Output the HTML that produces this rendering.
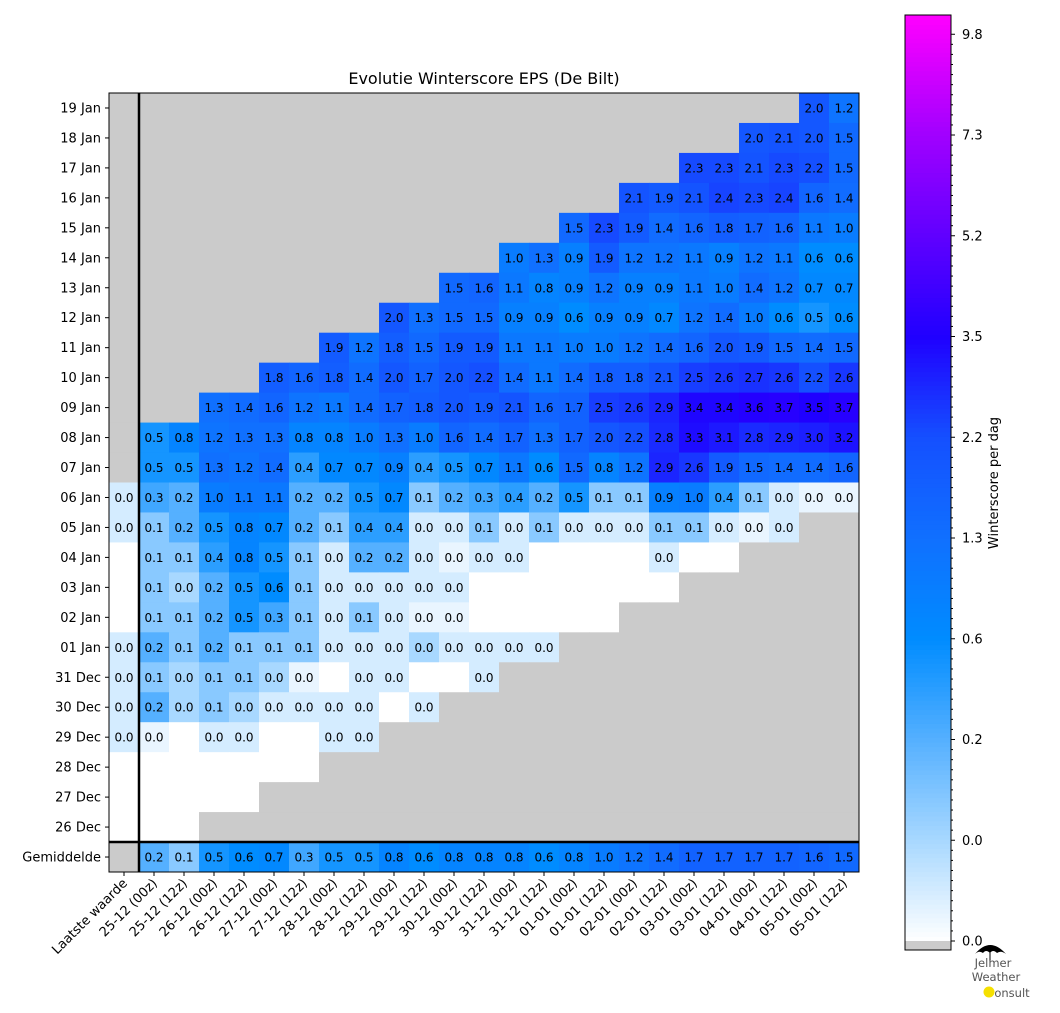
<!DOCTYPE html>
<html><head><meta charset="utf-8"><style>
html,body{margin:0;padding:0;background:#fff;}
svg{display:block;font-family:"DejaVu Sans","Liberation Sans",sans-serif;}
</style></head><body>
<svg id="chart" width="1060" height="1013" viewBox="0 0 1060 1013">
<text x="484" y="84" font-size="16" text-anchor="middle">Evolutie Winterscore EPS (De Bilt)</text>
<g id="cells"></g>
<g id="axes"></g>
<g id="cbar"></g>
<g>
<path d="M975,954 Q990,936 1006,954 Q1001,950 997,953 Q993,949 990,953 Q986,949 983,953 Q979,950 975,954 Z" fill="#000"/>
<path d="M990,952 L990,966" stroke="#000" stroke-width="1"/>
<text x="993" y="967" font-size="11.5" fill="#555" text-anchor="middle">Jelmer</text>
<text x="996" y="981" font-size="11.5" fill="#555" text-anchor="middle">Weather</text>
<circle cx="989" cy="992" r="5.5" fill="#f5e000"/>
<text x="1012" y="997" font-size="11.5" fill="#555" text-anchor="middle">onsult</text>
</g>
</svg>
<script>
const _ = null;   // missing (grey)
const Z = 0.02;   // small value printed as 0.0
const rowLabels = ["19 Jan","18 Jan","17 Jan","16 Jan","15 Jan","14 Jan","13 Jan","12 Jan","11 Jan","10 Jan","09 Jan","08 Jan","07 Jan","06 Jan","05 Jan","04 Jan","03 Jan","02 Jan","01 Jan","31 Dec","30 Dec","29 Dec","28 Dec","27 Dec","26 Dec","Gemiddelde"];
const colLabels = ["Laatste waarde","25-12 (00z)","25-12 (12z)","26-12 (00z)","26-12 (12z)","27-12 (00z)","27-12 (12z)","28-12 (00z)","28-12 (12z)","29-12 (00z)","29-12 (12z)","30-12 (00z)","30-12 (12z)","31-12 (00z)","31-12 (12z)","01-01 (00z)","01-01 (12z)","02-01 (00z)","02-01 (12z)","03-01 (00z)","03-01 (12z)","04-01 (00z)","04-01 (12z)","05-01 (00z)","05-01 (12z)"];
const r19 = [_,_,_,_,_,_,_,_,_,_,_,_,_,_,_,_,_,_,_,_,_,_,_,2.0,1.2];
const r18 = [_,_,_,_,_,_,_,_,_,_,_,_,_,_,_,_,_,_,_,_,_,2.0,2.1,2.0,1.5];
const r17 = [_,_,_,_,_,_,_,_,_,_,_,_,_,_,_,_,_,_,_,2.3,2.3,2.1,2.3,2.2,1.5];
const r16 = [_,_,_,_,_,_,_,_,_,_,_,_,_,_,_,_,_,2.1,1.9,2.1,2.4,2.3,2.4,1.6,1.4];
const r15 = [_,_,_,_,_,_,_,_,_,_,_,_,_,_,_,1.5,2.3,1.9,1.4,1.6,1.8,1.7,1.6,1.1,1.0];
const r14 = [_,_,_,_,_,_,_,_,_,_,_,_,_,1.0,1.3,0.9,1.9,1.2,1.2,1.1,0.9,1.2,1.1,0.6,0.6];
const r13 = [_,_,_,_,_,_,_,_,_,_,_,1.5,1.6,1.1,0.8,0.9,1.2,0.9,0.9,1.1,1.0,1.4,1.2,0.7,0.7];
const r12 = [_,_,_,_,_,_,_,_,_,2.0,1.3,1.5,1.5,0.9,0.9,0.6,0.9,0.9,0.7,1.2,1.4,1.0,0.6,0.5,0.6];
const r11 = [_,_,_,_,_,_,_,1.9,1.2,1.8,1.5,1.9,1.9,1.1,1.1,1.0,1.0,1.2,1.4,1.6,2.0,1.9,1.5,1.4,1.5];
const r10 = [_,_,_,_,_,1.8,1.6,1.8,1.4,2.0,1.7,2.0,2.2,1.4,1.1,1.4,1.8,1.8,2.1,2.5,2.6,2.7,2.6,2.2,2.6];
const r09 = [_,_,_,1.3,1.4,1.6,1.2,1.1,1.4,1.7,1.8,2.0,1.9,2.1,1.6,1.7,2.5,2.6,2.9,3.4,3.4,3.6,3.7,3.5,3.7];
const r08 = [_,0.5,0.8,1.2,1.3,1.3,0.8,0.8,1.0,1.3,1.0,1.6,1.4,1.7,1.3,1.7,2.0,2.2,2.8,3.3,3.1,2.8,2.9,3.0,3.2];
const r07 = [_,0.5,0.5,1.3,1.2,1.4,0.4,0.7,0.7,0.9,0.4,0.5,0.7,1.1,0.6,1.5,0.8,1.2,2.9,2.6,1.9,1.5,1.4,1.4,1.6];
const r06 = [Z,0.3,0.2,1.0,1.1,1.1,0.2,0.2,0.5,0.7,0.1,0.2,0.3,0.4,0.2,0.5,0.1,0.1,0.9,1.0,0.4,0.1,Z,0.01,0.01];
const r05 = [Z,0.1,0.2,0.5,0.8,0.7,0.2,0.1,0.4,0.4,Z,Z,0.1,Z,0.1,Z,Z,Z,0.1,0.1,Z,0.01,Z,_,_];
const r04 = [0,0.1,0.1,0.4,0.8,0.5,0.1,Z,0.2,0.2,Z,0.01,Z,Z,0,0,0,0,Z,0,0,_,_,_,_];
const r03 = [0,0.1,0.04,0.2,0.5,0.6,0.1,Z,Z,Z,Z,Z,0,0,0,0,0,0,0,_,_,_,_,_,_];
const r02 = [0,0.1,0.1,0.2,0.5,0.3,0.1,Z,0.1,Z,0.01,0.01,0,0,0,0,0,_,_,_,_,_,_,_,_];
const r01 = [Z,0.2,0.1,0.2,0.1,0.1,0.1,Z,Z,Z,0.04,Z,Z,Z,Z,_,_,_,_,_,_,_,_,_,_];
const r31 = [Z,0.1,0.04,0.1,0.1,0.04,0.01,0,Z,Z,0,0,Z,_,_,_,_,_,_,_,_,_,_,_,_];
const r30 = [Z,0.2,0.04,0.1,0.04,Z,Z,Z,Z,0,Z,_,_,_,_,_,_,_,_,_,_,_,_,_,_];
const r29 = [Z,0.01,0,Z,Z,0,0,Z,Z,_,_,_,_,_,_,_,_,_,_,_,_,_,_,_,_];
const r28 = [0,0,0,0,0,0,0,_,_,_,_,_,_,_,_,_,_,_,_,_,_,_,_,_,_];
const r27 = [0,0,0,0,0,_,_,_,_,_,_,_,_,_,_,_,_,_,_,_,_,_,_,_,_];
const r26 = [0,0,0,_,_,_,_,_,_,_,_,_,_,_,_,_,_,_,_,_,_,_,_,_,_];
const avg = [_,0.2,0.1,0.5,0.6,0.7,0.3,0.5,0.5,0.8,0.6,0.8,0.8,0.8,0.6,0.8,1.0,1.2,1.4,1.7,1.7,1.7,1.7,1.6,1.5];
const rows = [r19,r18,r17,r16,r15,r14,r13,r12,r11,r10,r09,r08,r07,r06,r05,r04,r03,r02,r01,r31,r30,r29,r28,r27,r26,avg];
const cbTicks = [0.0,0.04,0.2,0.6,1.3,2.2,3.5,5.2,7.3,9.8];
const cbTickLabels = ["0.0","0.0","0.2","0.6","1.3","2.2","3.5","5.2","7.3","9.8"];

const NS = "http://www.w3.org/2000/svg";
const X0 = 109, X1 = 859, Y0 = 93, Y1 = 872;
const cw = (X1 - X0) / colLabels.length, ch = (Y1 - Y0) / rowLabels.length;
const xPos = i => X0 + i * cw;
const yPos = j => Y0 + j * ch;
const STEP = 0.1088;
const CB_TOP = 15, CB_BOT = 941;
function frac(v){
  if (v <= cbTicks[0]) return 0;
  for (let i = 1; i < cbTicks.length; i++){
    if (v <= cbTicks[i]){ const t=(v-cbTicks[i-1])/(cbTicks[i]-cbTicks[i-1]); return ((i-1)+t)*STEP; }
  }
  return Math.min(1, 9*STEP + (v-9.8)*0.01);
}
const stops = [[0,[255,255,255]],[0.1088,[168,216,255]],[0.2176,[85,176,255]],[0.3264,[0,140,255]],[0.435,[16,112,255]],[0.544,[21,80,255]],[0.653,[32,0,255]],[0.762,[96,0,255]],[0.870,[160,0,255]],[1,[255,0,255]]];
function cmap(f){
  for (let i=1;i<stops.length;i++){
    if (f<=stops[i][0]){const a=stops[i-1],b=stops[i];const t=(f-a[0])/(b[0]-a[0]);
      const c=a[1].map((v,k)=>Math.round(v+(b[1][k]-v)*t));return `rgb(${c[0]},${c[1]},${c[2]})`;}
  }
  return "rgb(255,0,255)";
}
function mk(tag, attrs, parent){const e=document.createElementNS(NS,tag);for(const k in attrs)e.setAttribute(k,attrs[k]);parent.appendChild(e);return e;}

const gc = document.getElementById("cells");
rows.forEach((row,j)=>{
  row.forEach((v,i)=>{
    const r = mk("rect",{x:xPos(i),y:yPos(j),width:cw+0.5,height:ch+0.5,fill: v===null?"#cbcbcb":cmap(frac(v))},gc);
    
    
    if (v!==null && v>0){
      const t = mk("text",{x:xPos(i)+cw/2,y:yPos(j)+ch/2+4.5,"font-size":12,"text-anchor":"middle",fill:"#000"},gc);
      t.textContent = v.toFixed(1);
      
      
    }
  });
});
const ga = document.getElementById("axes");
mk("rect",{x:X0,y:Y0,width:X1-X0,height:Y1-Y0,fill:"none",stroke:"#000","stroke-width":1},ga);
const vl = mk("line",{x1:xPos(1),y1:Y0,x2:xPos(1),y2:Y1,stroke:"#000","stroke-width":2.5},ga);


const hl = mk("line",{x1:X0,y1:yPos(rowLabels.length-1),x2:X1,y2:yPos(rowLabels.length-1),stroke:"#000","stroke-width":2.5},ga);


rowLabels.forEach((l,j)=>{
  const y = yPos(j)+ch/2;
  mk("line",{x1:X0-4,y1:y,x2:X0,y2:y,stroke:"#000"},ga);
  const t = mk("text",{x:X0-8,y:y+4.5,"font-size":13,"text-anchor":"end"},ga);
  t.textContent = l;
  
  
});
colLabels.forEach((l,i)=>{
  const x = xPos(i)+cw/2;
  mk("line",{x1:x,y1:Y1,x2:x,y2:Y1+4,stroke:"#000"},ga);
  const t = mk("text",{x:x+4,y:Y1+12,"font-size":13,"text-anchor":"end",transform:`rotate(-45 ${x+4} ${Y1+12})`},ga);
  t.textContent = l;
  
  
});
const gb = document.getElementById("cbar");
const CBX = 905, CBW = 46, N = 200;
for (let k=0;k<N;k++){
  const f0 = k/N;
  const y = CB_BOT - (k+1)*(CB_BOT-CB_TOP)/N;
  mk("rect",{x:CBX,y:y,width:CBW,height:(CB_BOT-CB_TOP)/N+0.6,fill:cmap(f0+0.5/N)},gb);
}
mk("rect",{x:CBX,y:CB_BOT,width:CBW,height:9,fill:"#cbcbcb"},gb);
mk("rect",{x:CBX,y:CB_TOP,width:CBW,height:950-CB_TOP,fill:"none",stroke:"#000"},gb);
const fy = f => CB_BOT - f*(CB_BOT-CB_TOP);
for (let i=0;i<cbTicks.length;i++){
  const y = fy(i*STEP);
  mk("line",{x1:CBX+CBW,y1:y,x2:CBX+CBW+4,y2:y,stroke:"#000"},gb);
  const t = mk("text",{x:CBX+CBW+11,y:y+4.5,"font-size":13},gb);
  t.textContent = cbTickLabels[i];
  
  
  for (let m=1;m<10 && i<cbTicks.length-1;m++){
    const ym = fy((i+m/10)*STEP);
    mk("line",{x1:CBX+CBW,y1:ym,x2:CBX+CBW+2,y2:ym,stroke:"#000"},gb);
  }
}
const cl = mk("text",{x:998,y:483,"font-size":13,"text-anchor":"middle",transform:"rotate(-90 998 483)"},gb);
cl.textContent = "Winterscore per dag";


</script>
</body></html>
